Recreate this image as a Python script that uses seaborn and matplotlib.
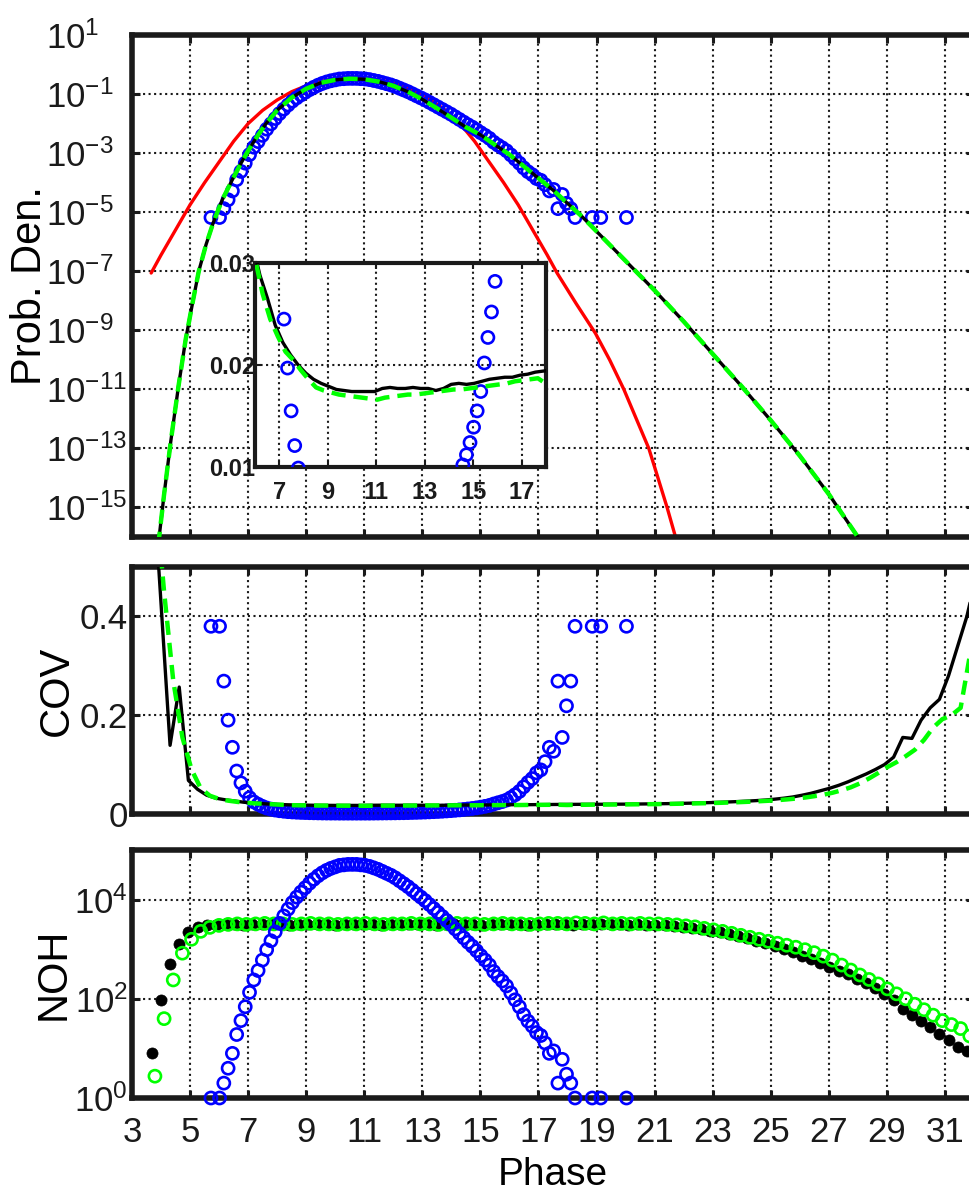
import numpy as np
import matplotlib
matplotlib.use("Agg")
import matplotlib.pyplot as plt
import seaborn as sns
from matplotlib import font_manager as fm
from matplotlib.ticker import FixedLocator, FixedFormatter, NullLocator

nan = np.nan

# ---------------- data ----------------
# blue: empirical histogram bins (evenly spaced centres)
blue_x = np.linspace(5.72, 20.03, 98)
blue_noh_exp = [0, nan, 0, 0.30, 0.60, 0.90, 1.28, 1.56, 1.84, 2.13,
                2.38, 2.57, 2.78, 2.99, 3.17, 3.35, 3.52, 3.67, 3.81, 3.94,
                4.05, 4.15, 4.24, 4.33, 4.41, 4.48, 4.54, 4.59, 4.63, 4.66,
                4.69, 4.70, 4.71, 4.71, 4.71, 4.70, 4.69, 4.67, 4.64, 4.61,
                4.57, 4.53, 4.49, 4.44, 4.38, 4.32, 4.26, 4.19, 4.12, 4.05,
                3.98, 3.90, 3.82, 3.74, 3.66, 3.58, 3.50, 3.41, 3.32, 3.23,
                3.14, 3.06, 2.97, 2.87, 2.78, 2.68, 2.55, 2.45, 2.36, 2.26,
                2.12, 1.98, 1.84, 1.68, 1.55, 1.45, 1.32, 1.26, 1.11, 0.90,
                0.95, 0.30, 0.78, 0.48, 0.30, 0, nan, nan, nan, 0,
                nan, 0, nan, nan, nan, nan, nan, 0]
blue_pdf_exp = [-5.18, nan, -5.18, -4.88, -4.58, -4.28, -3.90, -3.62, -3.34, -3.05,
                -2.80, -2.61, -2.40, -2.19, -2.01, -1.83, -1.66, -1.51, -1.37, -1.24,
                -1.13, -1.03, -0.94, -0.85, -0.77, -0.70, -0.64, -0.59, -0.55, -0.52,
                -0.49, -0.48, -0.47, -0.47, -0.47, -0.48, -0.49, -0.51, -0.54, -0.57,
                -0.61, -0.65, -0.69, -0.74, -0.80, -0.86, -0.92, -0.99, -1.06, -1.13,
                -1.20, -1.28, -1.36, -1.44, -1.52, -1.60, -1.68, -1.77, -1.86, -1.95,
                -2.04, -2.12, -2.21, -2.31, -2.40, -2.50, -2.63, -2.73, -2.82, -2.92,
                -3.06, -3.20, -3.34, -3.50, -3.63, -3.73, -3.86, -3.92, -4.07, -4.28,
                -4.23, -4.88, -4.40, -4.70, -4.88, -5.18, nan, nan, nan, -5.18,
                nan, -5.18, nan, nan, nan, nan, nan, -5.18]
blue_cov = [0.380, nan, 0.380, 0.269, 0.190, 0.135, 0.087, 0.063, 0.046, 0.033,
            0.0245, 0.0197, 0.0155, 0.0121, 0.0099, 0.0080, 0.0066, 0.0056, 0.0047, 0.0041,
            0.0036, 0.0032, 0.0029, 0.0026, 0.0024, 0.0022, 0.0020, 0.0019, 0.0018, 0.0018,
            0.0017, 0.0017, 0.0017, 0.0017, 0.0017, 0.0017, 0.0017, 0.0017, 0.0018, 0.0019,
            0.0020, 0.0021, 0.0022, 0.0023, 0.0025, 0.0026, 0.0028, 0.0031, 0.0033, 0.0036,
            0.0039, 0.0043, 0.0047, 0.0051, 0.0056, 0.0062, 0.0068, 0.0075, 0.0083, 0.0092,
            0.0102, 0.0112, 0.0124, 0.0139, 0.0155, 0.0174, 0.0202, 0.0227, 0.0252, 0.0282,
            0.0331, 0.0389, 0.0457, 0.0550, 0.0639, 0.0717, 0.0833, 0.0893, 0.106, 0.135,
            0.127, 0.269, 0.155, 0.219, 0.269, 0.380, nan, nan, nan, 0.380,
            nan, 0.380, nan, nan, nan, nan, nan, 0.380]

# black / green: model sample points
black_x = np.linspace(3.68, 32.07, 91)
green_x = np.linspace(3.79, 32.17, 91)
black_noh_exp = [0.90, 1.98, 2.71, 3.11, 3.34, 3.45, 3.48, 3.49, 3.50,
                 3.50, 3.49, 3.50, 3.51, 3.50, 3.50, 3.49, 3.50, 3.51, 3.50,
                 3.50, 3.49, 3.50, 3.50, 3.51, 3.50, 3.49, 3.50, 3.50, 3.51,
                 3.50, 3.50, 3.49, 3.50, 3.51, 3.50, 3.50, 3.49, 3.50, 3.51,
                 3.50, 3.50, 3.49, 3.50, 3.50, 3.51, 3.50, 3.49, 3.50, 3.50,
                 3.51, 3.50, 3.50, 3.49, 3.50, 3.49,
                 3.49, 3.48, 3.47, 3.45, 3.43, 3.40, 3.37, 3.34, 3.30, 3.26,
                 3.22, 3.17, 3.12, 3.06, 3.00, 2.94, 2.87, 2.80, 2.73, 2.65,
                 2.57, 2.49, 2.40, 2.31, 2.21, 2.10, 1.98, 1.80, 1.67, 1.55,
                 1.43, 1.30, 1.16, 1.03, 0.95, 0.85]
green_noh_exp = [0.44, 1.60, 2.38, 2.92, 3.20, 3.36, 3.44, 3.48, 3.50,
                 3.51, 3.50, 3.51, 3.52, 3.51, 3.51, 3.50, 3.51, 3.52, 3.51,
                 3.51, 3.50, 3.51, 3.51, 3.52, 3.51, 3.50, 3.51, 3.51, 3.52,
                 3.51, 3.51, 3.50, 3.51, 3.52, 3.51, 3.51, 3.50, 3.51, 3.52,
                 3.51, 3.51, 3.50, 3.51, 3.52, 3.52, 3.51, 3.53, 3.52, 3.51,
                 3.53, 3.51, 3.52, 3.51, 3.52, 3.51,
                 3.51, 3.50, 3.49, 3.47, 3.45, 3.42, 3.39, 3.36, 3.32, 3.28,
                 3.24, 3.20, 3.16, 3.12, 3.08, 3.04, 2.99, 2.93, 2.86, 2.78,
                 2.68, 2.58, 2.48, 2.39, 2.30, 2.20, 2.10, 2.00, 1.89, 1.78,
                 1.67, 1.56, 1.48, 1.40, 1.25, 1.15]
black_cov = [0.72, 0.43, 0.139, 0.257, 0.068, 0.050, 0.038, 0.032, 0.0288, 0.0265,
             0.0239, 0.0222, 0.0210, 0.0200, 0.0192, 0.0186, 0.0182, 0.0179, 0.0176, 0.0175,
             0.0174, 0.0174, 0.0174, 0.0174, 0.0177, 0.0178, 0.0177, 0.0177, 0.0178, 0.0177,
             0.0177, 0.0175, 0.0177, 0.0181, 0.0182, 0.0181, 0.0182, 0.0184, 0.0186, 0.0187,
             0.0188, 0.0188, 0.0190, 0.0191, 0.0193, 0.0194, 0.0195, 0.0196, 0.0196, 0.0197,
             0.0198, 0.0199, 0.0200, 0.0202, 0.0204, 0.0206, 0.0209, 0.0212, 0.0216, 0.0220,
             0.0225, 0.0231, 0.0237, 0.0244, 0.0252, 0.0261, 0.0271, 0.0283, 0.0300, 0.0320,
             0.0345, 0.0380, 0.0420, 0.0470, 0.0520, 0.0580, 0.0650, 0.0730, 0.0810, 0.0900,
             0.1000, 0.1150, 0.1550, 0.1530, 0.1900, 0.2150, 0.2320, 0.2800, 0.3400, 0.4000,
             0.4800]
green_cov = [0.66, 0.45, 0.27, 0.155, 0.090, 0.052, 0.037, 0.0305, 0.0270, 0.0245,
             0.0228, 0.0213, 0.0205, 0.0195, 0.0186, 0.0178, 0.0175, 0.0173, 0.0171, 0.0170,
             0.0169, 0.0168, 0.0167, 0.0166, 0.0168, 0.0169, 0.0170, 0.0171, 0.0171, 0.0172,
             0.0173, 0.0174, 0.0175, 0.0176, 0.0176, 0.0177, 0.0178, 0.0179, 0.0180, 0.0181,
             0.0182, 0.0184, 0.0185, 0.0186, 0.0187, 0.0182, 0.0185, 0.0187, 0.0189, 0.0190,
             0.0191, 0.0193, 0.0195, 0.0197, 0.0199, 0.0201, 0.0204, 0.0207, 0.0210, 0.0214,
             0.0218, 0.0223, 0.0228, 0.0234, 0.0241, 0.0249, 0.0258, 0.0268, 0.0280, 0.0295,
             0.0312, 0.0333, 0.0360, 0.0390, 0.0430, 0.0480, 0.0540, 0.0620, 0.0720, 0.0830,
             0.0950, 0.1050, 0.1170, 0.1300, 0.1500, 0.1750, 0.1920, 0.2000, 0.2150, 0.3200,
             0.3600]

# model probability density (black solid / green dashed coincide)
model_x = [3.90, 4.10, 4.34, 4.60, 4.85, 5.10, 5.30, 5.55, 5.80, 6.10, 6.43, 6.75,
           7.00, 7.30, 7.60, 8.00, 8.50, 9.00, 9.50, 10.00, 10.50, 11.00, 11.50,
           12.00, 12.50, 13.00, 13.50, 14.00, 14.50, 15.00, 15.50, 16.00, 16.50,
           17.00, 17.50, 18.00, 18.50, 19.00, 20.00, 21.00, 22.00, 23.00, 24.00,
           25.00, 26.00, 27.00, 28.00]
model_exp = [-16.3, -14.6, -12.73, -10.9, -9.3, -8.0, -7.0, -6.1, -5.35, -4.6, -3.95, -3.35,
             -2.92, -2.45, -2.02, -1.55, -1.12, -0.82, -0.62, -0.52, -0.48, -0.50, -0.58,
             -0.72, -0.92, -1.18, -1.48, -1.80, -2.12, -2.38, -2.72, -3.05, -3.45,
             -3.85, -4.25, -4.70, -5.15, -5.65, -6.65, -7.65, -8.70, -9.80, -10.90,
             -12.05, -13.25, -14.55, -16.0]
# red reference density
red_x = [3.66, 4.0, 4.5, 5.0, 5.5, 6.0, 6.5, 7.0, 7.5, 8.0, 8.5, 9.0, 9.5, 10.0,
         10.67, 11.3, 11.8, 12.3, 12.8, 13.3, 13.8, 14.3, 14.8, 15.3, 15.8, 16.3,
         16.8, 17.3, 17.64, 18.3, 18.96, 19.45, 19.94, 20.37, 20.8, 21.1, 21.43, 21.72]
red_exp = [-7.06, -6.45, -5.6, -4.75, -4.0, -3.3, -2.6, -2.0, -1.55, -1.2, -0.92, -0.72,
           -0.57, -0.48, -0.44, -0.48, -0.57, -0.72, -0.92, -1.2, -1.55, -2.0, -2.6,
           -3.3, -4.0, -4.75, -5.6, -6.45, -7.06, -8.1, -9.1, -10.0, -11.0, -12.0,
           -13.0, -13.95, -15.0, -16.0]

x_ticks = list(range(3, 32, 2))
pdf_tick_exp = [1, -1, -3, -5, -7, -9, -11, -13, -15]
cov_ticks = [0, 0.2, 0.4]
cov_labels = ["0", "0.2", "0.4"]
noh_tick_exp = [0, 2, 4]
inset_xticks = [7, 9, 11, 13, 15, 17]
inset_yticks = [0.01, 0.02, 0.03]
inset_ylabels = ["0.01", "0.02", "0.03"]

# ---------------- style ----------------
sns.set_theme(style="white")
names = {f.name for f in fm.fontManager.ttflist}
HAS_NARROW = "Liberation Sans Narrow" in names
NARROW = "Liberation Sans Narrow" if HAS_NARROW else "Liberation Sans"
REG = "Liberation Sans"
plt.rcParams["font.family"] = [NARROW, "DejaVu Sans"]
plt.rcParams["mathtext.fontset"] = "custom"
plt.rcParams["mathtext.rm"] = NARROW
plt.rcParams["mathtext.it"] = NARROW
plt.rcParams["mathtext.bf"] = NARROW + ":bold"
plt.rcParams["mathtext.default"] = "regular"
for k in ["text.color", "axes.labelcolor", "xtick.color", "ytick.color"]:
    plt.rcParams[k] = "black"
TICK = 27 if HAS_NARROW else 25

BLUE, RED, GREEN, BLACK = "#0000ff", "#ff0000", "#00ff00", "#000000"
W, H = 969, 1195
fig = plt.figure(figsize=(W / 100, H / 100), dpi=100, facecolor="white")


def rect(l, t, r, b):
    return [l / W, 1 - b / H, (r - l) / W, (b - t) / H]


ax1 = fig.add_axes(rect(132, 35, 974, 537))
ax2 = fig.add_axes(rect(132, 567, 974, 814))
ax3 = fig.add_axes(rect(132, 850, 974, 1098))
axi = fig.add_axes(rect(255, 263, 546, 467))


def style(ax, lw=4.0, tl=6, tw=2.2, size=TICK):
    ax.set_facecolor("white")
    for s in ax.spines.values():
        s.set_visible(True)
        s.set_linewidth(lw)
        s.set_color("k")
    ax.tick_params(which="major", direction="in", length=tl, width=tw,
                   top=True, right=True, bottom=True, left=True,
                   labelsize=size, colors="k")
    ax.tick_params(which="minor", length=0)
    ax.grid(True, which="major", color="k", linestyle=":", linewidth=1.5)
    ax.set_axisbelow(True)


dash = (0, (3.2, 1.8))
MS = 76      # open-circle marker area
MLW = 1.9    # open-circle edge width

# ---- top panel: probability density ----
ax1.set_yscale("log")
sns.lineplot(x=red_x, y=10.0 ** np.array(red_exp), ax=ax1, color=RED, linewidth=2.4,
             sort=False, estimator=None, zorder=2)
sns.scatterplot(x=blue_x, y=10.0 ** np.array(blue_pdf_exp), ax=ax1, marker="o", s=MS,
                facecolor="none", edgecolor=BLUE, linewidth=MLW, zorder=3)
sns.lineplot(x=model_x, y=10.0 ** np.array(model_exp), ax=ax1, color=BLACK, linewidth=2.4,
             sort=False, estimator=None, zorder=4)
sns.lineplot(x=model_x, y=10.0 ** np.array(model_exp), ax=ax1, color=GREEN, linewidth=3.2,
             linestyle=dash, sort=False, estimator=None, zorder=5)
ax1.set_xlim(3, 32)
ax1.set_ylim(1e-16, 1e1)
style(ax1)
ax1.xaxis.set_major_locator(FixedLocator(x_ticks))
ax1.yaxis.set_major_locator(FixedLocator([10.0 ** e for e in pdf_tick_exp]))
ax1.yaxis.set_major_formatter(FixedFormatter([r"$10^{%d}$" % e for e in pdf_tick_exp]))
ax1.yaxis.set_minor_locator(NullLocator())
ax1.tick_params(labelbottom=False)
ax1.tick_params(axis="y", pad=62)
for t in ax1.yaxis.get_major_ticks():
    t.label1.set_horizontalalignment("left")
ax1.set_xlabel("")
ax1.set_ylabel("Prob. Den.", fontsize=30, family=[REG, "DejaVu Sans"])
ax1.yaxis.set_label_coords(-0.0974, 0.5)

# ---- middle panel: COV ----
sns.scatterplot(x=blue_x, y=blue_cov, ax=ax2, marker="o", s=MS, facecolor="none",
                edgecolor=BLUE, linewidth=MLW, zorder=3, clip_on=False)
sns.lineplot(x=black_x, y=black_cov, ax=ax2, color=BLACK, linewidth=2.4,
             sort=False, estimator=None, zorder=4)
sns.lineplot(x=green_x, y=green_cov, ax=ax2, color=GREEN, linewidth=3.2,
             linestyle=dash, sort=False, estimator=None, zorder=5)
ax2.set_xlim(3, 32)
ax2.set_ylim(0, 0.5)
style(ax2)
ax2.xaxis.set_major_locator(FixedLocator(x_ticks))
ax2.yaxis.set_major_locator(FixedLocator(cov_ticks))
ax2.yaxis.set_major_formatter(FixedFormatter(cov_labels))
ax2.tick_params(labelbottom=False)
ax2.tick_params(axis="y", pad=3)
ax2.set_xlabel("")
ax2.set_ylabel("COV", fontsize=30, family=[REG, "DejaVu Sans"])
ax2.yaxis.set_label_coords(-0.0653, 0.5)

# ---- bottom panel: NOH ----
ax3.set_yscale("log")
sns.scatterplot(x=black_x, y=10.0 ** np.array(black_noh_exp), ax=ax3, marker="o", s=64,
                color=BLACK, edgecolor=BLACK, linewidth=0.5, zorder=3, clip_on=False)
sns.scatterplot(x=green_x, y=10.0 ** np.array(green_noh_exp), ax=ax3, marker="o", s=MS,
                facecolor="none", edgecolor=GREEN, linewidth=MLW, zorder=4, clip_on=False)
sns.scatterplot(x=blue_x, y=10.0 ** np.array(blue_noh_exp), ax=ax3, marker="o", s=MS,
                facecolor="none", edgecolor=BLUE, linewidth=MLW, zorder=5, clip_on=False)
ax3.set_xlim(3, 32)
ax3.set_ylim(1, 1e5)
style(ax3)
ax3.xaxis.set_major_locator(FixedLocator(x_ticks))
ax3.xaxis.set_major_formatter(FixedFormatter([str(v) for v in x_ticks]))
ax3.yaxis.set_major_locator(FixedLocator([10.0 ** e for e in noh_tick_exp]))
ax3.yaxis.set_major_formatter(FixedFormatter([r"$10^{%d}$" % e for e in noh_tick_exp]))
ax3.yaxis.set_minor_locator(NullLocator())
ax3.tick_params(axis="y", pad=3)
ax3.tick_params(axis="x", pad=13)
ax3.set_ylabel("NOH", fontsize=30, family=[REG, "DejaVu Sans"])
ax3.yaxis.set_label_coords(-0.0689, 0.5)
ax3.set_xlabel("Phase", fontsize=28)
ax3.xaxis.set_label_coords(0.5, -0.238)

# ---- inset: zoom of COV ----
sns.scatterplot(x=blue_x, y=blue_cov, ax=axi, marker="o", s=MS, facecolor="none",
                edgecolor=BLUE, linewidth=MLW, zorder=3)
sns.lineplot(x=black_x, y=black_cov, ax=axi, color=BLACK, linewidth=2.4,
             sort=False, estimator=None, zorder=4)
sns.lineplot(x=green_x, y=green_cov, ax=axi, color=GREEN, linewidth=3.2,
             linestyle=dash, sort=False, estimator=None, zorder=5)
axi.set_xlim(6, 18)
axi.set_ylim(0.01, 0.03)
style(axi, lw=3.0, tl=4, tw=1.5, size=17)
axi.xaxis.set_major_locator(FixedLocator(inset_xticks))
axi.xaxis.set_major_formatter(FixedFormatter([str(v) for v in inset_xticks]))
axi.yaxis.set_major_locator(FixedLocator(inset_yticks))
axi.yaxis.set_major_formatter(FixedFormatter(inset_ylabels))
axi.tick_params(axis="x", pad=10)
axi.tick_params(axis="y", pad=0)
for lab in axi.get_xticklabels() + axi.get_yticklabels():
    lab.set_fontweight("bold")
axi.set_xlabel("")
axi.set_ylabel("")

fig.savefig("out.png", dpi=100, facecolor="white")
